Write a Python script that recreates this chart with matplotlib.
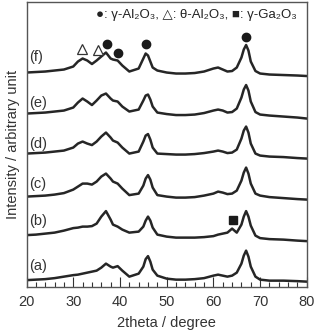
import matplotlib
matplotlib.use("Agg")
import matplotlib.pyplot as plt
from matplotlib.ticker import MultipleLocator

plt.rcParams['font.family'] = ['Liberation Sans', 'DejaVu Sans']

# 2theta grid shared by all patterns (degrees)
two_theta = [20, 22, 24, 26, 28, 30, 31, 32, 33, 34, 35, 36, 37, 38, 38.5, 39.5, 40.5, 42,
             44, 45, 45.5, 46, 46.5, 47, 48, 50, 52, 54, 56, 58, 60, 61, 62, 63, 64, 65,
             66, 66.5, 67, 67.5, 68, 69, 70, 72, 75, 78, 80]

# intensities (already stacked, arbitrary units)
pat_a = [6.5, 7, 7.5, 8.5, 10, 11.5, 12, 13, 14, 15, 16, 19, 23, 20, 19, 20.5, 16, 10,
         13, 20, 27.5, 30.5, 25, 17, 11, 8, 7, 7, 7.5, 8.5, 11, 12, 11, 10, 11, 14,
         23, 31, 36, 30, 20, 10, 7, 6, 6, 5.5, 5]
pat_b = [51.5, 52, 53, 54, 56, 58.5, 59, 60, 60, 60.5, 63, 70, 75.5, 67, 62, 60, 57, 54,
         55, 60, 66, 70, 66, 59, 52, 50, 49, 49, 49, 49.5, 50.5, 52, 53, 54, 58, 54,
         62, 70, 75.5, 70, 61, 51, 48.5, 47.5, 47, 46, 45.5]
pat_c = [90, 90.5, 91, 92, 93.5, 97, 100, 103, 103, 102, 105, 110, 113, 108, 105, 103, 98, 91.5,
         93, 101, 108, 111.5, 107, 99, 91.5, 90, 89, 89, 89.5, 91, 93, 95, 94, 92.5, 93, 96,
         106, 114, 119, 113, 103, 93, 91, 89.5, 88.5, 87.5, 87]
pat_d = [133, 133.5, 134, 135, 136, 139, 143, 145, 143, 141.5, 145, 150, 154, 149, 146, 144, 139, 133,
         135, 145, 151, 152.5, 147, 139, 133, 132.5, 132, 132, 132.5, 133.5, 135, 136, 135, 133.5, 134, 137,
         148, 156, 160, 154, 143, 133, 131, 130, 129.5, 128.5, 128]
pat_e = [173, 173.5, 174, 175, 176, 179, 184, 188, 185, 181.5, 186, 191, 193, 188, 186, 185, 180, 175,
         177, 186, 191, 192, 187, 180, 174, 172.5, 171.5, 171.5, 172, 173.5, 176, 177, 176, 174, 174.5, 178,
         189, 197, 201.5, 196, 185, 174.5, 172, 171, 170, 169, 168]
pat_f = [214, 214.5, 215, 216, 217, 220, 225, 228, 226, 222.5, 226, 230, 234, 228, 227, 226, 221, 215,
         218, 228, 233, 231, 225, 219, 216, 214, 213, 213, 213.5, 215, 218, 219, 217, 215, 215.5, 219,
         229, 237, 241.5, 236, 225, 215.5, 213, 212, 211.5, 211, 210.5]

patterns = [pat_a, pat_b, pat_c, pat_d, pat_e, pat_f]
labels = ['(a)', '(b)', '(c)', '(d)', '(e)', '(f)']
label_y = [20.5, 65.5, 102.5, 142.5, 184, 229.5]

# phase markers
circle_x = [37.2, 39.5, 45.6, 67.0]
circle_y = [243, 234, 242.5, 250]
tri_x = [31.8, 35.2]
tri_y = [238, 236.5]
square_x = [64.1]
square_y = [66.5]

fig = plt.figure(figsize=(3.16, 3.31), dpi=100)
ax = fig.add_axes([0.084, 0.134, 0.887, 0.86])

for p in patterns:
    ax.plot(two_theta, p, color='#262626', lw=1.8)

for lab, ly in zip(labels, label_y):
    ax.text(20.6, ly, lab, fontsize=10.5, va='center', ha='left', color='#333333')

ax.plot(circle_x, circle_y, 'o', color='#1a1a1a', ms=6, ls='none')
ax.plot(tri_x, tri_y, '^', mfc='white', mec='#333333', mew=0.9, ms=6.5, ls='none')
ax.plot(square_x, square_y, 's', color='#1a1a1a', ms=5.5, ls='none')

ax.text(0.965, 0.955,
        '\u25cf: \u03b3-Al\u2082O\u2083, \u25b3: \u03b8-Al\u2082O\u2083, \u25a0: \u03b3-Ga\u2082O\u2083',
        transform=ax.transAxes, ha='right', va='center', fontsize=9.5, color='#222222')

ax.set_xlim(20, 80)
ax.set_ylim(0, 284.5)
ax.xaxis.set_major_locator(MultipleLocator(10))
ax.xaxis.set_minor_locator(MultipleLocator(2))
ax.tick_params(axis='x', which='major', direction='in', length=7, width=0.8,
               labelsize=10.5, pad=6, colors='#333333')
ax.tick_params(axis='x', which='minor', direction='in', length=3.5, width=0.8, colors='#333333')
ax.set_yticks([])
for s in ax.spines.values():
    s.set_linewidth(1.0)
    s.set_color('#555555')

ax.set_xlabel('2theta / degree', fontsize=10.5, labelpad=5, color='#333333')
ax.set_ylabel('Intensity / arbitrary unit', fontsize=10.5, labelpad=5, color='#333333')

fig.savefig('out.png', dpi=100)
